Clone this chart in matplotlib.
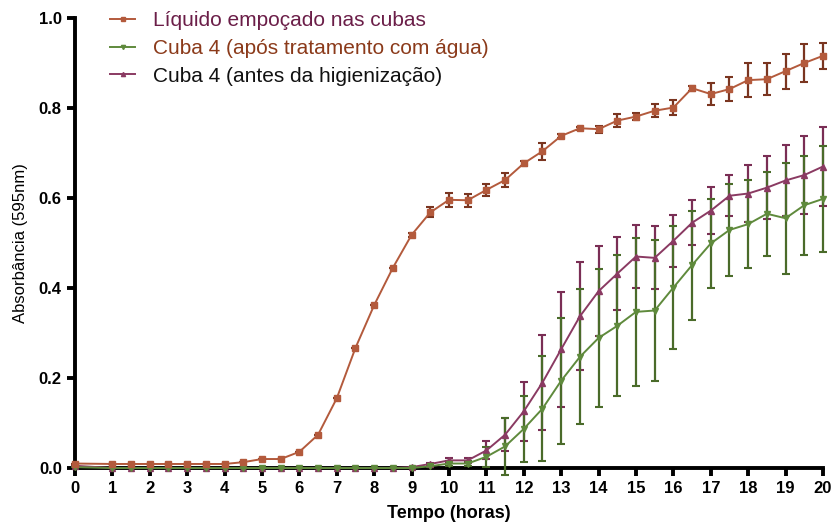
import matplotlib
matplotlib.use("Agg")
import matplotlib.pyplot as plt
import numpy as np

plt.rcParams['font.family'] = ['Liberation Sans', 'DejaVu Sans']

hours = [0, 1, 1.5, 2, 2.5, 3, 3.5, 4, 4.5, 5, 5.5, 6, 6.5, 7, 7.5, 8, 8.5, 9, 9.5,
         10, 10.5, 11, 11.5, 12, 12.5, 13, 13.5, 14, 14.5, 15, 15.5, 16, 16.5, 17,
         17.5, 18, 18.5, 19, 19.5, 20]

liquido = [0.010, 0.009, 0.009, 0.009, 0.009, 0.009, 0.009, 0.009, 0.013, 0.020, 0.020,
           0.036, 0.074, 0.155, 0.267, 0.362, 0.445, 0.518, 0.568, 0.596, 0.595, 0.618,
           0.640, 0.677, 0.704, 0.738, 0.755, 0.753, 0.772, 0.781, 0.794, 0.801, 0.844,
           0.831, 0.842, 0.862, 0.864, 0.882, 0.900, 0.916]
liquido_err = [0, 0, 0, 0, 0, 0, 0, 0, 0, 0, 0,
               0, 0, 0, 0, 0, 0, 0.004, 0.011, 0.016, 0.014, 0.013,
               0.015, 0.005, 0.019, 0.005, 0.003, 0.008, 0.014, 0.008, 0.014, 0.016, 0.006,
               0.025, 0.026, 0.037, 0.035, 0.039, 0.042, 0.029]

apos = [0.002, 0, 0, 0, 0, 0, 0, 0, 0, 0, 0,
        0, 0, 0, 0, 0, 0, 0.000, 0.004, 0.010, 0.010, 0.025,
        0.048, 0.087, 0.132, 0.194, 0.247, 0.289, 0.316, 0.347, 0.350, 0.401, 0.451,
        0.499, 0.529, 0.542, 0.565, 0.555, 0.584, 0.598]
apos_err = [0, 0, 0, 0, 0, 0, 0, 0, 0, 0, 0,
            0, 0, 0, 0, 0, 0, 0, 0.002, 0.005, 0.005, 0.022,
            0.063, 0.074, 0.116, 0.140, 0.150, 0.153, 0.157, 0.164, 0.157, 0.136, 0.121,
            0.099, 0.103, 0.098, 0.093, 0.123, 0.110, 0.117]

antes = [0.005, 0, 0, 0, 0, 0, 0, 0, 0, 0, 0,
         0, 0, 0, 0, 0, 0, 0.002, 0.009, 0.017, 0.017, 0.039,
         0.074, 0.126, 0.190, 0.264, 0.337, 0.393, 0.432, 0.470, 0.467, 0.505, 0.545,
         0.572, 0.605, 0.610, 0.623, 0.639, 0.651, 0.670]
antes_err = [0, 0, 0, 0, 0, 0, 0, 0, 0, 0, 0,
             0, 0, 0, 0, 0, 0, 0.001, 0.003, 0.006, 0.006, 0.020,
             0.037, 0.065, 0.105, 0.128, 0.120, 0.100, 0.081, 0.071, 0.070, 0.058, 0.050,
             0.053, 0.046, 0.063, 0.070, 0.078, 0.087, 0.088]

labels = ["Líquido empoçado nas cubas", "Cuba 4 (após tratamento com água)",
          "Cuba 4 (antes da higienização)"]
xticks = list(range(0, 21))
yticks = [0.0, 0.2, 0.4, 0.6, 0.8, 1.0]

fig = plt.figure(figsize=(8.35, 5.22), dpi=100)
ax = fig.add_axes([0.0898, 0.1034, 0.8958, 0.8621])

c_or, c_or_e = '#B35A3C', '#7A3520'
c_gr, c_gr_e = '#5F8A3C', '#4A6B2A'
c_pu, c_pu_e = '#8A3A62', '#7A2E55'

series = [(liquido, liquido_err, c_or, c_or_e, 's', 4),
          (apos, apos_err, c_gr, c_gr_e, 'v', 4),
          (antes, antes_err, c_pu, c_pu_e, '^', 4)]
for (vals, errs, c, ce, m, ms) in series[::-1]:
    ax.errorbar(hours, vals, yerr=errs, color=c, ecolor=ce, elinewidth=1.6,
                capsize=3, capthick=1.5, lw=1.4, marker=m, ms=ms, mec=c, mfc=c,
                clip_on=False, zorder=3)

leg_handles = []
for (vals, errs, c, ce, m, ms) in series:
    h, = ax.plot([], [], color=c, lw=1.4, marker=m, ms=3)
    leg_handles.append(h)
leg = ax.legend(leg_handles, labels, loc='upper left', bbox_to_anchor=(0.022, 1.057),
                frameon=False, fontsize=15, handlelength=1.2, handletextpad=0.87,
                labelspacing=0.42)
for t, col in zip(leg.get_texts(), ['#6B1E48', '#8B3A1A', '#111111']):
    t.set_color(col)

ax.set_xlim(0, 20)
ax.set_ylim(0, 1.0)
ax.set_xticks(xticks)
ax.set_yticks(yticks)
ax.set_yticklabels([f"{v:.1f}" for v in yticks])
for s in ['top', 'right']:
    ax.spines[s].set_visible(False)
for s in ['left', 'bottom']:
    ax.spines[s].set_linewidth(2.8)
ax.tick_params(axis='both', which='major', width=2.8, length=6, direction='out',
               labelsize=12)
for lab in ax.get_xticklabels() + ax.get_yticklabels():
    lab.set_fontweight('bold')
ax.set_xlabel("Tempo (horas)", fontsize=13, fontweight='bold', labelpad=6)
ax.set_ylabel("Absorbância (595nm)", fontsize=12, labelpad=8)

fig.savefig("out.png", dpi=100)
